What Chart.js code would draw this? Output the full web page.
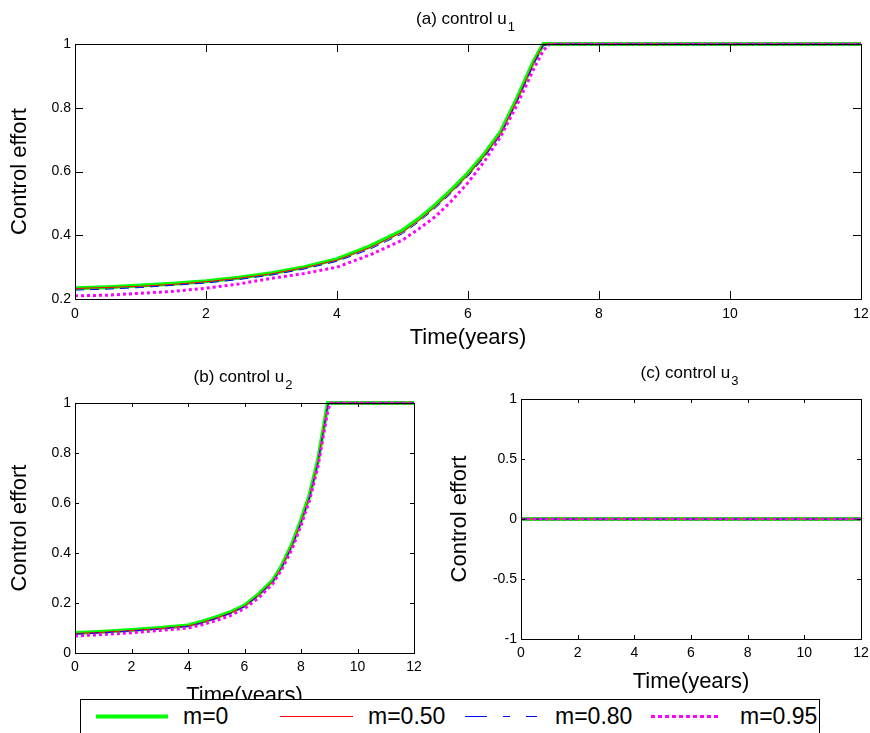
<!DOCTYPE html>
<html lang="en">
<head>
<meta charset="UTF-8">
<title>Control effort</title>
<script src="https://cdn.jsdelivr.net/npm/chart.js"></script>
<style>
  body { margin: 0; background: #fff; font-family: "Liberation Sans", Arial, sans-serif; }
  #page { position: relative; width: 870px; height: 733px; overflow: hidden; background: #fff; }
  .box { position: absolute; }
  #legend {
    position: absolute; left: 80px; top: 699px; width: 738px; height: 33px;
    border: 1px solid #000; background: #fff; z-index: 5;
  }
  #legend svg { position: absolute; left: 0; top: 0; }
  #legend span { position: absolute; top: 2px; font-size: 23px; line-height: 28px; color: #000; }
</style>
</head>
<body>
<div id="page">
  <div class="box" style="left:0;top:0;"><canvas id="chartA" width="870" height="352"></canvas></div>
  <div class="box" style="left:0;top:355px;"><canvas id="chartB" width="440" height="365"></canvas></div>
  <div class="box" style="left:440px;top:355px;"><canvas id="chartC" width="430" height="365"></canvas></div>

  <div id="legend">
    <svg width="738" height="33">
      <line x1="15" y1="16.5" x2="87" y2="16.5" stroke="#00ff00" stroke-width="4"/>
      <line x1="199" y1="16.5" x2="272" y2="16.5" stroke="#ff0000" stroke-width="1"/>
      <line x1="384" y1="16.5" x2="457" y2="16.5" stroke="#0000ff" stroke-width="1" stroke-dasharray="22 16 7 16 11"/>
      <line x1="570" y1="16.5" x2="638" y2="16.5" stroke="#ff00ff" stroke-width="3" stroke-dasharray="4 3"/>
    </svg>
    <span style="left:102px;">m=0</span>
    <span style="left:287px;">m=0.50</span>
    <span style="left:474px;">m=0.80</span>
    <span style="left:659px;">m=0.95</span>
  </div>
</div>

<script>
  // ---- data ----
  const seriesNames = ['m=0', 'm=0.50', 'm=0.80', 'm=0.95'];
  const xTicks = [0, 2, 4, 6, 8, 10, 12];

  // (a) control u1
  const yearsA = [0, 0.5, 1, 1.5, 2, 2.5, 3, 3.5, 4, 4.5, 5, 5.25, 5.5, 5.75, 6, 6.25, 6.5, 6.75, 7, 7.15, 7.25, 12];
  const u1_m0  = [0.234, 0.237, 0.242, 0.248, 0.256, 0.267, 0.281, 0.300, 0.325, 0.365, 0.415, 0.452, 0.495, 0.543, 0.595, 0.655, 0.725, 0.830, 0.945, 1, 1, 1];
  const u1_m50 = [0.233, 0.236, 0.240, 0.246, 0.254, 0.265, 0.279, 0.298, 0.322, 0.361, 0.410, 0.447, 0.490, 0.538, 0.590, 0.650, 0.720, 0.825, 0.940, 1, 1, 1];
  const u1_m80 = [0.228, 0.231, 0.236, 0.243, 0.250, 0.261, 0.275, 0.294, 0.318, 0.356, 0.405, 0.442, 0.485, 0.533, 0.585, 0.645, 0.715, 0.820, 0.935, 0.995, 1, 1];
  const u1_m95 = [0.210, 0.212, 0.218, 0.224, 0.234, 0.247, 0.265, 0.280, 0.300, 0.338, 0.385, 0.420, 0.458, 0.508, 0.565, 0.632, 0.710, 0.810, 0.920, 0.980, 1, 1];
  const ticksA = [0.2, 0.4, 0.6, 0.8, 1];

  // (b) control u2
  const yearsB = [0, 1, 2, 3, 4, 4.5, 5, 5.5, 6, 6.5, 7, 7.3, 7.7, 8, 8.3, 8.6, 8.95, 9.05, 12];
  const u2_m0  = [0.080, 0.085, 0.092, 0.100, 0.110, 0.125, 0.143, 0.163, 0.190, 0.235, 0.290, 0.345, 0.440, 0.530, 0.630, 0.770, 1, 1, 1];
  const u2_m50 = [0.078, 0.083, 0.090, 0.098, 0.108, 0.122, 0.140, 0.160, 0.187, 0.232, 0.287, 0.340, 0.435, 0.525, 0.625, 0.765, 0.995, 1, 1];
  const u2_m80 = [0.075, 0.081, 0.088, 0.096, 0.106, 0.120, 0.138, 0.158, 0.185, 0.230, 0.284, 0.337, 0.430, 0.520, 0.620, 0.760, 0.990, 1, 1];
  const u2_m95 = [0.068, 0.074, 0.081, 0.090, 0.100, 0.113, 0.130, 0.150, 0.178, 0.220, 0.277, 0.330, 0.420, 0.510, 0.610, 0.745, 0.970, 1, 1];
  const ticksB = [0, 0.2, 0.4, 0.6, 0.8, 1];

  // (c) control u3
  const yearsC = [0, 12];
  const u3_m0  = [0, 0];
  const u3_m50 = [0, 0];
  const u3_m80 = [0, 0];
  const u3_m95 = [0, 0];
  const ticksC = [-1, -0.5, 0, 0.5, 1];

  // ---- styles ----
  const lineStyles = [
    { borderColor: '#00ff00', borderWidth: 4, borderDash: [], order: 4 },
    { borderColor: '#ff0000', borderWidth: 1, borderDash: [], order: 3 },
    { borderColor: '#0000ff', borderWidth: 1, borderDash: [9, 6], order: 2 },
    { borderColor: '#ff00ff', borderWidth: 3, borderDash: [3, 3], order: 1 }
  ];
  const FONT = '"Liberation Sans", Arial, sans-serif';
  Chart.defaults.font.family = FONT;
  Chart.defaults.color = '#000';

  // title with subscript
  const subTitle = {
    id: 'subTitle',
    afterDraw(chart, args, o) {
      if (!o.text) return;
      const ctx = chart.ctx, a = chart.chartArea;
      ctx.save();
      ctx.fillStyle = '#000';
      ctx.textBaseline = 'middle';
      ctx.textAlign = 'left';
      ctx.font = '17px ' + FONT;
      const w1 = ctx.measureText(o.text).width;
      ctx.font = '13px ' + FONT;
      const w2 = ctx.measureText(o.sub).width;
      const x0 = (a.left + a.right) / 2 - (w1 + w2) / 2 + o.dx;
      ctx.font = '17px ' + FONT;
      ctx.fillText(o.text, x0, o.y);
      ctx.font = '13px ' + FONT;
      ctx.fillText(o.sub, x0 + w1 + 1, o.y + 8);
      ctx.restore();
    }
  };

  // matlab style box with inward ticks
  const boxTicks = {
    id: 'boxTicks',
    afterDraw(chart, args, o) {
      const ctx = chart.ctx, a = chart.chartArea;
      const xs = chart.scales.x, ys = chart.scales.y;
      const L = o.len;
      ctx.save();
      ctx.strokeStyle = '#000';
      ctx.lineWidth = 1;
      ctx.beginPath();
      xs.ticks.forEach(t => {
        const p = Math.round(xs.getPixelForValue(t.value)) + 0.5;
        ctx.moveTo(p, a.bottom); ctx.lineTo(p, a.bottom - L);
        ctx.moveTo(p, a.top); ctx.lineTo(p, a.top + L);
      });
      ys.ticks.forEach(t => {
        const p = Math.round(ys.getPixelForValue(t.value)) + 0.5;
        ctx.moveTo(a.left, p); ctx.lineTo(a.left + L, p);
        ctx.moveTo(a.right, p); ctx.lineTo(a.right - L, p);
      });
      ctx.stroke();
      ctx.strokeRect(Math.round(a.left) + 0.5, Math.round(a.top) + 0.5,
                     Math.round(a.right - a.left), Math.round(a.bottom - a.top));
      ctx.restore();
    }
  };

  function makeChart(id, years, lists, yTicks, cfg) {
    const datasets = lists.map((vals, i) => Object.assign({
      label: seriesNames[i],
      data: years.map((x, k) => ({ x: x, y: vals[k] })),
      pointRadius: 0,
      tension: 0,
      fill: false,
      clip: 4
    }, lineStyles[i]));

    return new Chart(document.getElementById(id), {
      type: 'line',
      data: { datasets: datasets },
      options: {
        responsive: false,
        animation: false,
        devicePixelRatio: 1,
        layout: { padding: cfg.pad },
        plugins: {
          legend: { display: false },
          tooltip: { enabled: false },
          subTitle: cfg.title,
          boxTicks: { len: cfg.tickLen }
        },
        scales: {
          x: {
            type: 'linear', min: 0, max: 12,
            afterBuildTicks: s => { s.ticks = xTicks.map(v => ({ value: v })); },
            grid: { display: false, drawTicks: false },
            border: { display: false },
            ticks: { font: { size: cfg.tickFont }, padding: cfg.xTickPad, maxRotation: 0, callback: v => String(v) },
            title: { display: true, text: 'Time(years)', font: { size: 22 }, padding: { top: 0, bottom: cfg.xTitlePad } },
            afterFit: s => { s.height = cfg.xHeight; s.paddingLeft = 0; s.paddingRight = 0; }
          },
          y: {
            type: 'linear', min: yTicks[0], max: yTicks[yTicks.length - 1],
            afterBuildTicks: s => { s.ticks = yTicks.map(v => ({ value: v })); },
            grid: { display: false, drawTicks: false },
            border: { display: false },
            ticks: { font: { size: cfg.tickFont }, padding: 4, callback: v => String(v) },
            title: { display: true, text: 'Control effort', font: { size: 22 }, padding: { top: 7, bottom: 0 } },
            afterFit: s => { s.width = cfg.yWidth; s.paddingTop = 0; s.paddingBottom = 0; }
          }
        }
      },
      plugins: [subTitle, boxTicks]
    });
  }

  makeChart('chartA', yearsA, [u1_m0, u1_m50, u1_m80, u1_m95], ticksA, {
    pad: { left: 0, top: 44, right: 9, bottom: 0 },
    yWidth: 75, xHeight: 53, xTickPad: 7, xTitlePad: 1, tickFont: 14, tickLen: 8,
    title: { text: '(a) control u', sub: '1', dx: -3, y: 19.5 }
  });

  makeChart('chartB', yearsB, [u2_m0, u2_m50, u2_m80, u2_m95], ticksB, {
    pad: { left: 0, top: 48, right: 26, bottom: 0 },
    yWidth: 75, xHeight: 67, xTickPad: 6, xTitlePad: 11, tickFont: 14, tickLen: 4,
    title: { text: '(b) control u', sub: '2', dx: -2, y: 22.5 }
  });

  makeChart('chartC', yearsC, [u3_m0, u3_m50, u3_m80, u3_m95], ticksC, {
    pad: { left: 0, top: 44, right: 9, bottom: 0 },
    yWidth: 81, xHeight: 81, xTickPad: 6, xTitlePad: 25, tickFont: 14, tickLen: 4,
    title: { text: '(c) control u', sub: '3', dx: -2, y: 18.5 }
  });
</script>
</body>
</html>
